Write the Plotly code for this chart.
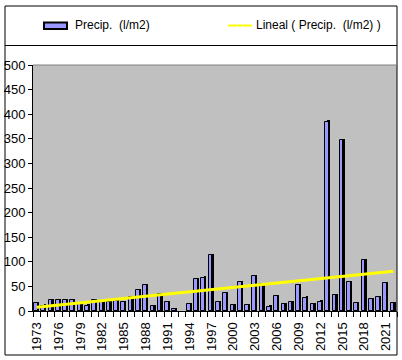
import numpy as np
import plotly.graph_objects as go

years = list(range(1973, 2023))
precip = [16, 11, 22, 22, 22, 22, 14, 11, 22, 20, 19, 20, 18,
          28, 43, 53, 10, 34, 18, 4, 0, 14, 65, 68, 114,
          18, 36, 12, 58, 12, 71, 55, 9, 30, 14, 18, 53,
          27, 14, 19, 385, 32, 347, 58, 16, 103, 24, 29, 56, 16]
tick_years = list(range(1973, 2022, 3))
y_ticks = list(range(0, 501, 50))
series_name = "Precip.\u00a0 (l/m2)"
trend_name = "Lineal ( Precip.\u00a0 (l/m2) )"

W, H = 402, 360
L, R, T, B = 33, 397, 65, 311
def px(x):
    return (x - L) / (R - L)
def py(y):
    return (B - y) / (B - T)

yr = np.array(years, dtype=float)
vals = np.array(precip, dtype=float)
slope, icpt = np.polyfit(yr, vals, 1)
trend = slope * yr + icpt

font = "Liberation Sans, Arial, sans-serif"

fig = go.Figure()
# depth (shadow) of bars
fig.add_trace(go.Bar(
    x=years, y=[v + 2.5 if v > 0 else None for v in precip],
    offset=-0.05, width=0.38, marker=dict(color="black", line=dict(width=0)),
    showlegend=False, hoverinfo="skip"))
# front face of bars
fig.add_trace(go.Bar(
    x=years, y=[v if v > 0 else None for v in precip], name=series_name,
    offset=-0.36, width=0.5,
    marker=dict(color="#9999FF", line=dict(color="black", width=1)),
    showlegend=False))
fig.add_trace(go.Scatter(
    x=years, y=trend, mode="lines", name=trend_name,
    line=dict(color="#FFFF00", width=3), showlegend=False))

shapes = [
    dict(type="rect", xref="paper", yref="paper",
         x0=px(5), x1=px(397), y0=py(355), y1=py(6),
         line=dict(color="black", width=1), layer="above"),
    dict(type="line", xref="paper", yref="paper",
         x0=px(5), x1=px(397), y0=py(45.5), y1=py(45.5),
         line=dict(color="black", width=1)),
    dict(type="line", xref="paper", yref="paper",
         x0=0, x1=1, y0=1, y1=1, line=dict(color="#808080", width=1)),
    # legend symbols
    dict(type="rect", xref="paper", yref="paper",
         x0=px(44), x1=px(67), y0=py(29), y1=py(22.5),
         fillcolor="#9999FF", line=dict(color="black", width=2)),
    dict(type="line", xref="paper", yref="paper",
         x0=px(228), x1=px(252), y0=py(25.5), y1=py(25.5),
         line=dict(color="#FFFF00", width=2)),
]
annotations = [
    dict(xref="paper", yref="paper", x=px(73), y=py(25.5), text=series_name,
         showarrow=False, xanchor="left", yanchor="middle",
         font=dict(family=font, size=12, color="black")),
    dict(xref="paper", yref="paper", x=px(254), y=py(25.5), text=trend_name,
         showarrow=False, xanchor="left", yanchor="middle",
         font=dict(family=font, size=12, color="black")),
]

fig.update_layout(
    width=W, height=H,
    margin=dict(l=L, r=W - R, t=T, b=H - B, pad=0, autoexpand=False),
    paper_bgcolor="white", plot_bgcolor="#C0C0C0",
    barmode="overlay", bargap=0,
    shapes=shapes, annotations=annotations,
    showlegend=False,
    font=dict(family=font, size=13, color="black"),
    xaxis=dict(
        range=[1972.5, 2022.5], tickvals=tick_years,
        ticktext=[str(t) for t in tick_years], tickangle=-90,
        ticks="outside", ticklen=5, tickcolor="rgba(0,0,0,0)",
        showline=True, linecolor="black", linewidth=1,
        showgrid=False, zeroline=False, automargin=False,
        tickfont=dict(family=font, size=13, color="black"),
        minor=dict(tickvals=[y + 0.5 for y in range(1972, 2023)],
                   ticks="outside", ticklen=5, tickcolor="black",
                   tickwidth=1, showgrid=False),
    ),
    yaxis=dict(
        range=[0, 500], tickvals=y_ticks,
        ticks="outside", ticklen=4, tickcolor="black", tickwidth=1,
        showline=True, linecolor="black", linewidth=1,
        showgrid=False, zeroline=False, automargin=False,
        tickfont=dict(family=font, size=13, color="black"),
    ),
)

fig.write_html("out.html", config={"displayModeBar": False},
               post_script="document.body.style.margin='0';")
